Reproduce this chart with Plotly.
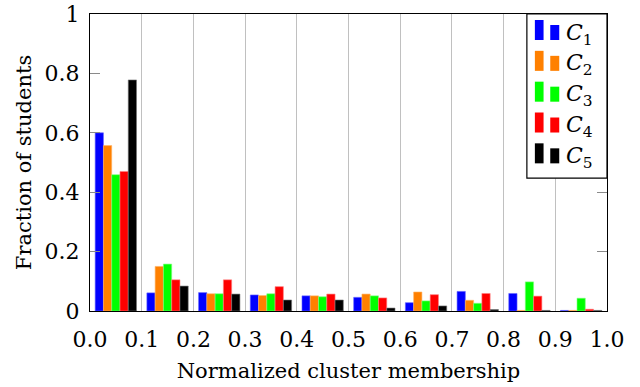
import plotly.graph_objects as go

# Histogram of normalized cluster membership, one series per cluster
bin_centers = [0.05, 0.15, 0.25, 0.35, 0.45, 0.55, 0.65, 0.75, 0.85, 0.95]
c1 = [0.600, 0.061, 0.062, 0.054, 0.051, 0.046, 0.028, 0.066, 0.059, 0.002]
c2 = [0.557, 0.150, 0.058, 0.052, 0.051, 0.057, 0.064, 0.036, 0.002, 0.002]
c3 = [0.459, 0.158, 0.058, 0.058, 0.048, 0.051, 0.034, 0.026, 0.098, 0.043]
c4 = [0.470, 0.105, 0.105, 0.082, 0.057, 0.044, 0.055, 0.059, 0.050, 0.006]
c5 = [0.778, 0.084, 0.057, 0.037, 0.037, 0.010, 0.017, 0.005, 0.002, 0.002]

series = [c1, c2, c3, c4, c5]
names = ["C1", "C2", "C3", "C4", "C5"]
colors = ["#0000ff", "#ff8000", "#00ff00", "#ff0000", "#000000"]
edge_colors = ["#6666ff", "#ffb366", "#80ff80", "#ff8080", "#777777"]

x_ticks = [i / 10 for i in range(11)]
x_ticktext = [f"{v:.1f}" for v in x_ticks]
y_ticks = [0, 0.2, 0.4, 0.6, 0.8, 1]
y_ticktext = ["0", "0.2", "0.4", "0.6", "0.8", "1"]

FONT = "DejaVu Serif"
W, H = 640, 387
L, R, T, B = 90, 607.5, 14, 310.7

fig = go.Figure()
for vals, name, col, edge in zip(series, names, colors, edge_colors):
    fig.add_trace(go.Bar(
        x=bin_centers, y=vals, name=name,
        marker=dict(color=col, line=dict(color=edge, width=0.6)),
        showlegend=False,
    ))


def px_x(p):
    return (p - L) / (R - L)


def px_y(p):
    return (B - p) / (B - T)


# Legend panel drawn by hand: two bars of unequal height plus a label per entry
shapes = [dict(type="rect", xref="paper", yref="paper",
               x0=px_x(527.3), x1=1, y0=px_y(178), y1=1,
               fillcolor="white", line=dict(color="black", width=1.2),
               layer="above")]
annotations = []
for i, col in enumerate(colors):
    base = 40 + 30.8 * i
    shapes.append(dict(type="rect", xref="paper", yref="paper",
                       x0=px_x(535.3), x1=px_x(544), y0=px_y(base), y1=px_y(base - 20),
                       fillcolor=col, line=dict(width=0), layer="above"))
    shapes.append(dict(type="rect", xref="paper", yref="paper",
                       x0=px_x(550.7), x1=px_x(559.7), y0=px_y(base), y1=px_y(base - 15),
                       fillcolor=col, line=dict(width=0), layer="above"))
    annotations.append(dict(
        xref="paper", yref="paper", x=px_x(564), y=px_y(base - 6),
        xanchor="left", yanchor="middle", showarrow=False,
        text=f"<i>C</i><sub>{i + 1}</sub>",
        font=dict(family=FONT, size=22, color="black"),
    ))

fig.update_layout(
    width=W, height=H, autosize=False,
    margin=dict(l=L, r=W - R, t=T, b=H - B, pad=0),
    paper_bgcolor="white", plot_bgcolor="white",
    barmode="group", bargap=0.2, bargroupgap=0,
    font=dict(family=FONT, size=22, color="black"),
    shapes=shapes, annotations=annotations,
    xaxis=dict(
        range=[0, 1], tickvals=x_ticks, ticktext=x_ticktext,
        showgrid=True, gridcolor="#c0c0c0", gridwidth=1,
        showline=True, mirror=True, linecolor="black", linewidth=1.2,
        ticks="", zeroline=False, ticklabelstandoff=8, automargin=False,
        title=dict(text="Normalized cluster membership", standoff=12,
                   font=dict(family=FONT, size=21)),
        tickfont=dict(family=FONT, size=22),
    ),
    yaxis=dict(
        range=[0, 1], tickvals=y_ticks, ticktext=y_ticktext,
        showgrid=False, showline=True, mirror="ticks",
        linecolor="black", linewidth=1.2,
        ticks="inside", ticklen=10, tickcolor="#8a8a8a", tickwidth=1,
        zeroline=False, ticklabelstandoff=5, automargin=False,
        title=dict(text="Fraction of students", standoff=7,
                   font=dict(family=FONT, size=21)),
        tickfont=dict(family=FONT, size=22),
    ),
)

fig.write_html("out.html")
